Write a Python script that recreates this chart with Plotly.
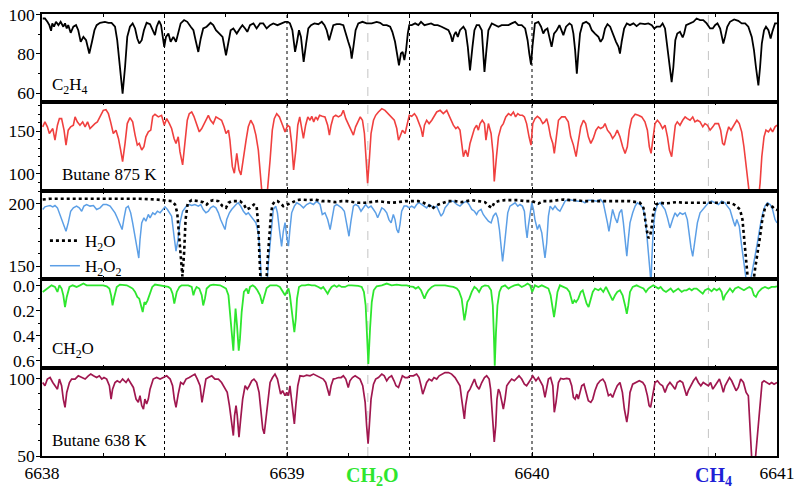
import plotly.graph_objects as go
from plotly.subplots import make_subplots

# ---------------- data (wavenumber, value) ----------------
c2h4 = [(6638.003,98.1),(6638.012,98.1),(6638.022,96.4),(6638.030,94.7),(6638.037,91.8),(6638.042,95.6),(6638.049,93.9),(6638.057,96.4),(6638.067,94.7),(6638.076,96.4),(6638.087,93.9),(6638.094,95.6),(6638.101,93.0),(6638.107,94.7),(6638.117,90.8),(6638.128,93.9),(6638.139,94.7),(6638.148,92.1),(6638.158,86.2),(6638.169,88.7),(6638.180,87.0),(6638.193,80.2),(6638.204,86.2),(6638.214,92.1),(6638.223,94.7),(6638.237,95.9),(6638.257,96.4),(6638.271,95.9),(6638.284,95.9),(6638.298,93.9),(6638.307,87.0),(6638.318,75.0),(6638.329,59.7),(6638.339,73.3),(6638.348,88.7),(6638.359,93.9),(6638.370,95.6),(6638.380,93.0),(6638.389,87.9),(6638.397,85.3),(6638.407,87.0),(6638.416,92.1),(6638.427,95.9),(6638.441,95.2),(6638.452,92.1),(6638.461,89.6),(6638.468,93.9),(6638.478,96.9),(6638.486,94.7),(6638.493,88.7),(6638.499,83.6),(6638.506,88.7),(6638.516,90.4),(6638.525,86.2),(6638.536,88.7),(6638.547,86.2),(6638.556,91.3),(6638.566,95.6),(6638.580,97.3),(6638.593,96.4),(6638.607,93.9),(6638.618,92.1),(6638.627,87.0),(6638.638,81.0),(6638.648,87.9),(6638.658,93.0),(6638.672,93.9),(6638.688,95.9),(6638.699,94.7),(6638.710,92.1),(6638.724,90.4),(6638.737,88.7),(6638.751,79.3),(6638.761,87.0),(6638.770,92.1),(6638.781,93.0),(6638.795,90.4),(6638.808,93.0),(6638.818,94.7),(6638.829,93.0),(6638.838,91.3),(6638.849,94.7),(6638.863,95.6),(6638.876,93.0),(6638.890,95.6),(6638.903,95.6),(6638.917,93.0),(6638.931,94.7),(6638.944,95.6),(6638.961,94.7),(6638.978,95.6),(6638.992,96.4),
(6639.003,96.4),(6639.012,95.6),(6639.022,92.1),(6639.033,81.0),(6639.041,86.2),(6639.049,92.1),(6639.057,88.7),(6639.068,75.9),(6639.078,85.3),(6639.087,93.0),(6639.098,94.7),(6639.112,95.6),(6639.128,95.2),(6639.142,96.4),(6639.153,94.7),(6639.162,92.1),(6639.172,87.0),(6639.180,90.4),(6639.189,94.7),(6639.203,95.2),(6639.216,95.2),(6639.230,94.7),(6639.241,89.6),(6639.250,86.2),(6639.259,82.7),(6639.264,77.6),(6639.271,83.6),(6639.280,92.1),(6639.291,95.6),(6639.308,96.4),(6639.325,95.6),(6639.346,95.6),(6639.366,96.4),(6639.380,95.9),(6639.393,94.7),(6639.407,94.7),(6639.421,93.9),(6639.430,91.3),(6639.441,86.2),(6639.450,80.2),(6639.457,74.2),(6639.465,80.2),(6639.472,81.0),(6639.479,76.8),(6639.486,81.9),(6639.493,90.4),(6639.499,94.7),(6639.509,94.7),(6639.523,95.6),(6639.536,94.7),(6639.547,96.4),(6639.561,94.7),(6639.574,95.2),(6639.588,95.6),(6639.601,94.7),(6639.615,94.7),(6639.631,93.9),(6639.645,93.0),(6639.659,92.1),(6639.668,89.6),(6639.675,86.2),(6639.682,89.6),(6639.689,91.3),(6639.697,88.7),(6639.706,92.1),(6639.720,93.9),(6639.729,92.1),(6639.738,83.6),(6639.747,71.6),(6639.757,83.6),(6639.765,92.1),(6639.774,94.7),(6639.784,94.7),(6639.795,92.1),(6639.800,81.9),(6639.806,70.8),(6639.814,81.9),(6639.822,92.1),(6639.836,95.6),(6639.849,94.7),(6639.863,93.9),(6639.876,94.7),(6639.890,94.7),(6639.904,94.7),(6639.917,95.6),(6639.931,96.4),(6639.944,94.7),(6639.958,94.7),(6639.972,93.0),(6639.982,87.0),(6639.989,80.2),(6639.996,74.5),(6640.002,84.0),(6640.008,91.0),
(6640.012,95.6),(6640.026,96.4),(6640.037,93.9),(6640.046,90.4),(6640.053,92.1),(6640.063,93.0),(6640.071,88.7),(6640.080,83.6),(6640.090,90.4),(6640.101,92.1),(6640.112,94.7),(6640.121,91.3),(6640.128,89.6),(6640.139,93.9),(6640.153,95.6),(6640.162,94.7),(6640.169,90.4),(6640.176,81.9),(6640.183,69.9),(6640.189,80.2),(6640.196,90.4),(6640.207,95.6),(6640.221,96.4),(6640.234,95.2),(6640.244,92.1),(6640.257,90.4),(6640.271,88.7),(6640.280,86.2),(6640.289,87.9),(6640.298,93.0),(6640.308,95.2),(6640.319,93.9),(6640.329,90.4),(6640.343,86.2),(6640.353,83.6),(6640.359,80.2),(6640.366,86.2),(6640.376,93.0),(6640.387,95.6),(6640.400,94.7),(6640.414,95.6),(6640.427,94.2),(6640.441,95.6),(6640.461,95.2),(6640.475,95.6),(6640.489,94.7),(6640.499,93.0),(6640.509,93.9),(6640.523,93.9),(6640.533,95.6),(6640.543,93.0),(6640.553,83.6),(6640.561,73.3),(6640.570,65.6),(6640.577,73.3),(6640.585,87.0),(6640.593,90.4),(6640.604,91.3),(6640.615,88.4),(6640.621,90.4),(6640.629,94.7),(6640.642,95.6),(6640.659,96.4),(6640.672,98.1),(6640.686,97.3),(6640.699,97.3),(6640.713,95.6),(6640.727,93.0),(6640.738,93.0),(6640.747,94.7),(6640.757,95.6),(6640.768,93.0),(6640.774,88.7),(6640.781,85.3),(6640.788,88.7),(6640.797,93.9),(6640.808,96.4),(6640.825,97.6),(6640.842,96.9),(6640.856,95.6),(6640.870,95.6),(6640.883,93.9),(6640.897,88.7),(6640.906,81.9),(6640.914,73.3),(6640.924,63.9),(6640.931,73.3),(6640.938,85.3),(6640.947,92.1),(6640.955,93.9),(6640.965,92.1),(6640.974,87.9),(6640.981,91.3),(6640.992,95.6),(6641.000,95.6)]

butane875 = [(6638.003,155.1),(6638.012,160.9),(6638.022,155.1),(6638.030,147.3),(6638.044,153.1),(6638.053,139.5),(6638.063,157.0),(6638.071,164.7),(6638.080,164.7),(6638.090,151.2),(6638.098,133.7),(6638.107,151.2),(6638.117,155.1),(6638.128,157.0),(6638.135,166.7),(6638.144,160.9),(6638.155,157.0),(6638.166,160.9),(6638.176,155.1),(6638.186,160.9),(6638.196,153.1),(6638.207,157.0),(6638.216,158.9),(6638.226,160.9),(6638.237,166.7),(6638.250,174.4),(6638.261,175.2),(6638.271,170.5),(6638.280,160.9),(6638.291,147.3),(6638.302,151.2),(6638.312,141.5),(6638.321,127.9),(6638.329,114.3),(6638.339,135.7),(6638.348,158.9),(6638.359,165.9),(6638.370,160.9),(6638.380,145.4),(6638.389,133.7),(6638.397,135.7),(6638.407,127.9),(6638.416,131.8),(6638.424,143.4),(6638.434,149.2),(6638.444,151.2),(6638.452,167.4),(6638.461,169.8),(6638.475,166.7),(6638.488,168.6),(6638.499,157.0),(6638.509,164.7),(6638.520,158.9),(6638.529,153.1),(6638.539,141.5),(6638.547,135.7),(6638.556,143.4),(6638.563,126.0),(6638.574,110.5),(6638.584,139.5),(6638.593,162.8),(6638.601,170.5),(6638.611,172.5),(6638.620,167.4),(6638.631,158.9),(6638.642,149.2),(6638.652,153.1),(6638.661,158.9),(6638.672,164.7),(6638.679,168.6),(6638.688,162.8),(6638.699,158.9),(6638.710,166.7),(6638.724,164.7),(6638.733,162.8),(6638.743,155.1),(6638.751,147.3),(6638.761,151.2),(6638.767,139.5),(6638.777,108.5),(6638.785,100.8),(6638.795,124.0),(6638.804,104.7),(6638.812,98.8),(6638.822,120.2),(6638.833,139.5),(6638.842,155.1),(6638.852,162.8),(6638.863,157.0),(6638.873,145.4),(6638.883,127.9),(6638.890,100.8),(6638.897,81.4),(6638.903,60.0),(6638.914,60.0),(6638.924,89.2),(6638.931,116.3),(6638.940,151.2),(6638.948,164.7),(6638.958,170.5),(6638.969,166.7),(6638.982,157.0),(6638.992,149.2),
(6639.003,157.0),(6639.011,155.1),(6639.019,135.7),(6639.027,104.7),(6639.036,127.9),(6639.044,157.0),(6639.052,166.7),(6639.060,151.2),(6639.067,141.5),(6639.076,157.0),(6639.085,166.7),(6639.094,162.8),(6639.101,167.4),(6639.109,160.9),(6639.117,166.7),(6639.125,163.6),(6639.133,168.6),(6639.144,167.4),(6639.155,166.7),(6639.166,157.0),(6639.173,145.4),(6639.180,157.0),(6639.189,166.7),(6639.199,168.6),(6639.210,166.7),(6639.221,168.6),(6639.230,174.4),(6639.240,164.7),(6639.250,158.9),(6639.261,153.1),(6639.271,145.4),(6639.280,155.1),(6639.289,160.9),(6639.299,166.7),(6639.308,162.8),(6639.316,147.3),(6639.323,116.3),(6639.329,89.2),(6639.336,116.3),(6639.343,147.3),(6639.353,162.8),(6639.362,168.6),(6639.373,172.5),(6639.387,176.4),(6639.400,174.4),(6639.414,170.5),(6639.425,166.7),(6639.438,162.8),(6639.448,153.1),(6639.455,139.5),(6639.461,143.4),(6639.471,151.2),(6639.482,147.3),(6639.491,158.9),(6639.499,168.6),(6639.509,167.4),(6639.520,170.5),(6639.529,166.7),(6639.539,158.9),(6639.547,153.1),(6639.554,143.4),(6639.561,157.0),(6639.570,162.8),(6639.580,158.9),(6639.591,162.8),(6639.601,168.6),(6639.611,172.5),(6639.625,174.4),(6639.638,170.5),(6639.652,174.4),(6639.665,166.7),(6639.679,157.0),(6639.689,153.1),(6639.697,155.1),(6639.706,151.2),(6639.713,137.6),(6639.720,120.2),(6639.729,127.9),(6639.738,120.2),(6639.747,135.7),(6639.757,147.3),(6639.765,153.1),(6639.774,157.0),(6639.781,151.2),(6639.788,158.9),(6639.797,162.8),(6639.806,158.9),(6639.812,139.5),(6639.822,158.9),(6639.833,147.3),(6639.841,124.0),(6639.846,91.1),(6639.855,120.2),(6639.863,143.4),(6639.874,155.1),(6639.883,158.9),(6639.893,166.7),(6639.904,170.5),(6639.914,168.6),(6639.924,172.5),(6639.933,166.7),(6639.942,170.5),(6639.951,168.6),(6639.961,168.6),(6639.969,166.7),(6639.978,158.9),(6639.988,143.4),(6639.996,133.7),
(6640.003,158.9),(6640.012,164.7),(6640.022,167.4),(6640.033,164.7),(6640.044,158.9),(6640.052,160.9),(6640.060,164.7),(6640.067,157.0),(6640.076,143.4),(6640.085,135.7),(6640.091,124.0),(6640.101,151.2),(6640.108,162.8),(6640.121,166.7),(6640.135,166.7),(6640.148,160.9),(6640.158,143.4),(6640.169,133.7),(6640.180,120.2),(6640.189,137.6),(6640.199,155.1),(6640.210,162.8),(6640.219,158.9),(6640.230,143.4),(6640.240,135.7),(6640.250,141.5),(6640.261,151.2),(6640.271,155.1),(6640.280,153.1),(6640.291,155.1),(6640.298,158.9),(6640.308,151.2),(6640.319,147.3),(6640.329,141.5),(6640.339,145.4),(6640.348,151.2),(6640.359,143.4),(6640.370,131.8),(6640.380,124.0),(6640.389,131.8),(6640.397,151.2),(6640.407,164.7),(6640.421,169.8),(6640.434,168.6),(6640.448,166.7),(6640.461,160.9),(6640.471,151.2),(6640.479,131.8),(6640.486,124.0),(6640.493,139.5),(6640.502,158.9),(6640.512,162.8),(6640.523,158.9),(6640.533,153.1),(6640.543,157.0),(6640.553,143.4),(6640.561,127.9),(6640.570,120.2),(6640.577,139.5),(6640.585,157.0),(6640.593,160.9),(6640.604,157.0),(6640.615,162.8),(6640.625,166.7),(6640.634,164.7),(6640.645,162.8),(6640.656,166.7),(6640.665,160.9),(6640.675,162.8),(6640.686,160.9),(6640.697,155.1),(6640.706,158.9),(6640.716,157.0),(6640.727,151.2),(6640.738,155.1),(6640.747,158.9),(6640.761,158.9),(6640.770,151.2),(6640.778,135.7),(6640.785,133.7),(6640.795,147.3),(6640.803,155.1),(6640.812,151.2),(6640.825,157.0),(6640.836,162.8),(6640.846,158.9),(6640.856,149.2),(6640.865,131.8),(6640.874,112.4),(6640.883,89.2),(6640.890,69.8),(6640.906,60.0),(6640.924,69.8),(6640.931,89.2),(6640.938,120.2),(6640.947,143.4),(6640.955,151.2),(6640.965,149.2),(6640.974,153.1),(6640.982,149.2),(6640.992,155.1),(6641.000,157.0)]

h2o = [(6638.003,203.5),(6638.033,204.1),(6638.073,204.1),(6638.128,204.1),(6638.196,204.1),(6638.264,204.1),(6638.332,204.1),(6638.400,204.1),(6638.468,203.5),(6638.509,203.0),(6638.529,202.2),(6638.543,199.5),(6638.552,192.8),(6638.561,171.3),(6638.567,152.5),(6638.573,141.7),(6638.580,160.5),(6638.586,187.4),(6638.595,200.9),(6638.611,203.0),(6638.638,202.2),(6638.658,201.4),(6638.672,199.5),(6638.686,202.2),(6638.699,203.0),(6638.720,202.2),(6638.737,198.2),(6638.751,196.8),(6638.761,200.9),(6638.774,202.2),(6638.795,202.2),(6638.808,202.2),(6638.824,199.5),(6638.835,195.5),(6638.849,196.8),(6638.865,199.5),(6638.876,198.2),(6638.883,182.0),(6638.887,160.5),(6638.892,139.0),(6638.903,130.0),(6638.914,130.0),(6638.920,152.5),(6638.928,174.0),(6638.935,192.8),(6638.941,199.5),(6638.951,202.2),(6638.961,202.2),(6638.971,200.9),(6638.985,198.2),
(6639.006,199.5),(6639.019,200.9),(6639.040,203.0),(6639.060,203.5),(6639.087,203.0),(6639.114,203.5),(6639.142,202.2),(6639.169,202.2),(6639.196,201.4),(6639.223,202.2),(6639.244,202.2),(6639.264,201.4),(6639.291,200.9),(6639.319,200.9),(6639.346,201.4),(6639.373,202.2),(6639.400,201.4),(6639.427,200.9),(6639.455,201.4),(6639.482,202.2),(6639.509,202.2),(6639.536,202.2),(6639.557,200.9),(6639.570,199.5),(6639.584,198.2),(6639.593,196.0),(6639.604,198.2),(6639.618,199.5),(6639.638,200.9),(6639.659,202.2),(6639.686,202.2),(6639.713,201.4),(6639.733,202.2),(6639.754,203.0),(6639.781,202.2),(6639.808,201.4),(6639.825,198.2),(6639.836,196.8),(6639.846,200.9),(6639.863,202.2),(6639.890,203.0),(6639.917,203.0),(6639.944,203.0),(6639.972,202.2),(6639.999,202.2),
(6640.026,200.3),(6640.046,202.2),(6640.074,202.2),(6640.101,203.0),(6640.128,203.5),(6640.155,203.0),(6640.183,203.0),(6640.210,202.2),(6640.237,202.2),(6640.264,202.2),(6640.291,202.2),(6640.319,202.2),(6640.346,202.2),(6640.373,202.2),(6640.400,202.2),(6640.425,201.4),(6640.441,200.9),(6640.455,196.8),(6640.461,187.4),(6640.468,179.4),(6640.475,172.6),(6640.482,174.0),(6640.489,182.0),(6640.495,192.8),(6640.506,199.5),(6640.523,200.9),(6640.543,200.3),(6640.563,200.9),(6640.591,201.4),(6640.618,200.9),(6640.645,200.9),(6640.672,201.4),(6640.699,201.4),(6640.727,201.4),(6640.754,200.9),(6640.781,200.9),(6640.808,200.9),(6640.825,199.5),(6640.838,197.6),(6640.849,195.5),(6640.859,187.4),(6640.865,174.0),(6640.874,155.2),(6640.880,141.7),(6640.887,133.0),(6640.901,133.0),(6640.910,147.1),(6640.921,160.5),(6640.931,174.0),(6640.940,187.4),(6640.951,196.8),(6640.961,199.5),(6640.972,198.7),(6640.982,197.6),(6640.992,195.5),(6641.000,195.0)]

h2o2 = [(6638.003,195.5),(6638.012,197.6),(6638.022,198.2),(6638.033,198.7),(6638.044,197.6),(6638.053,198.7),(6638.063,196.8),(6638.071,192.8),(6638.080,187.4),(6638.090,182.0),(6638.098,178.0),(6638.107,184.7),(6638.117,194.1),(6638.128,196.8),(6638.141,198.2),(6638.152,196.8),(6638.162,194.1),(6638.171,198.2),(6638.182,199.5),(6638.196,198.2),(6638.210,198.7),(6638.223,195.5),(6638.237,196.8),(6638.250,199.5),(6638.264,199.5),(6638.278,198.2),(6638.288,195.5),(6638.298,192.8),(6638.307,188.8),(6638.318,183.4),(6638.327,179.4),(6638.335,188.8),(6638.343,196.8),(6638.352,198.2),(6638.362,192.8),(6638.370,184.7),(6638.380,174.0),(6638.389,163.2),(6638.395,156.5),(6638.400,171.3),(6638.407,184.7),(6638.416,188.8),(6638.424,186.1),(6638.434,191.5),(6638.441,188.8),(6638.452,192.8),(6638.461,191.5),(6638.471,194.1),(6638.482,192.8),(6638.493,195.5),(6638.502,197.6),(6638.512,195.5),(6638.520,192.8),(6638.529,190.1),(6638.539,174.0),(6638.547,162.0),(6638.554,170.0),(6638.563,184.7),(6638.574,194.1),(6638.584,197.0),(6638.590,198.5),(6638.601,199.5),(6638.611,198.7),(6638.624,199.5),(6638.638,198.2),(6638.648,199.5),(6638.658,195.5),(6638.669,192.8),(6638.679,194.1),(6638.688,196.8),(6638.699,198.2),(6638.710,196.8),(6638.720,192.8),(6638.729,187.4),(6638.737,183.4),(6638.747,179.4),(6638.754,187.4),(6638.765,192.8),(6638.774,195.5),(6638.784,198.2),(6638.792,199.5),(6638.801,200.9),(6638.811,198.2),(6638.822,194.1),(6638.833,191.5),(6638.842,192.8),(6638.852,190.1),(6638.863,187.4),(6638.873,184.7),(6638.883,176.7),(6638.890,160.5),(6638.897,130.0),(6638.917,130.0),(6638.924,152.5),(6638.931,168.6),(6638.937,184.7),(6638.944,195.5),(6638.954,198.2),(6638.961,192.8),(6638.969,179.4),(6638.978,165.9),(6638.985,178.0),(6638.992,185.0),(6639.000,172.0),(6639.006,166.0),(6639.012,179.4),(6639.019,192.8),
(6639.030,198.2),(6639.040,200.9),(6639.053,199.5),(6639.067,196.8),(6639.080,199.5),(6639.094,200.9),(6639.108,199.5),(6639.121,202.2),(6639.135,199.5),(6639.144,191.5),(6639.155,192.8),(6639.166,187.4),(6639.176,179.4),(6639.185,190.1),(6639.193,198.2),(6639.203,199.5),(6639.212,198.2),(6639.223,196.8),(6639.234,194.1),(6639.244,184.7),(6639.253,174.0),(6639.261,186.1),(6639.271,198.2),(6639.280,199.5),(6639.291,198.2),(6639.302,194.1),(6639.312,196.8),(6639.321,199.5),(6639.332,196.8),(6639.343,198.2),(6639.353,195.5),(6639.362,192.8),(6639.370,188.8),(6639.380,194.1),(6639.387,196.8),(6639.397,195.5),(6639.407,192.8),(6639.416,187.4),(6639.425,184.7),(6639.434,191.5),(6639.441,187.4),(6639.448,179.4),(6639.455,176.7),(6639.461,183.4),(6639.468,194.1),(6639.478,198.2),(6639.489,198.2),(6639.498,196.8),(6639.509,198.2),(6639.520,196.8),(6639.529,199.5),(6639.539,200.9),(6639.550,199.5),(6639.561,198.2),(6639.570,196.8),(6639.580,199.5),(6639.591,198.2),(6639.601,196.8),(6639.611,198.2),(6639.621,194.1),(6639.629,190.1),(6639.638,192.8),(6639.645,196.8),(6639.656,199.5),(6639.665,202.2),(6639.679,202.2),(6639.693,199.5),(6639.706,198.2),(6639.720,200.9),(6639.733,202.2),(6639.743,199.5),(6639.754,195.5),(6639.765,194.1),(6639.774,191.5),(6639.781,194.1),(6639.792,195.5),(6639.801,191.5),(6639.811,188.8),(6639.822,186.1),(6639.833,184.7),(6639.842,190.1),(6639.852,192.8),(6639.860,188.8),(6639.867,179.4),(6639.874,165.9),(6639.880,153.8),(6639.887,165.9),(6639.893,179.4),(6639.901,192.8),(6639.910,198.2),(6639.920,199.5),(6639.931,200.9),(6639.942,198.2),(6639.951,199.5),(6639.961,198.2),(6639.969,194.1),(6639.974,182.0),(6639.980,172.6),(6639.985,182.0),(6639.992,194.1),
(6639.999,200.9),(6640.006,195.5),(6640.012,187.4),(6640.022,179.4),(6640.030,183.4),(6640.040,176.7),(6640.046,165.9),(6640.053,156.5),(6640.060,168.6),(6640.067,190.1),(6640.074,198.2),(6640.085,195.5),(6640.094,198.2),(6640.104,195.5),(6640.114,194.1),(6640.124,198.2),(6640.135,202.2),(6640.148,203.5),(6640.162,203.0),(6640.176,202.2),(6640.189,202.2),(6640.203,202.2),(6640.216,200.9),(6640.230,203.0),(6640.244,203.0),(6640.264,202.2),(6640.280,203.5),(6640.291,200.9),(6640.302,191.5),(6640.308,184.7),(6640.314,178.0),(6640.321,187.4),(6640.329,195.5),(6640.339,188.8),(6640.348,184.7),(6640.357,192.8),(6640.366,195.5),(6640.373,184.7),(6640.380,168.6),(6640.387,157.9),(6640.393,171.3),(6640.400,184.7),(6640.411,192.8),(6640.421,198.2),(6640.430,200.9),(6640.441,199.5),(6640.452,196.8),(6640.461,190.1),(6640.468,176.7),(6640.475,160.5),(6640.482,141.7),(6640.486,136.0),(6640.489,155.2),(6640.495,179.4),(6640.502,192.8),(6640.512,199.5),(6640.523,200.9),(6640.533,198.2),(6640.543,195.5),(6640.553,188.8),(6640.563,180.7),(6640.574,187.4),(6640.584,192.8),(6640.593,190.1),(6640.604,192.8),(6640.615,191.5),(6640.625,192.8),(6640.634,187.4),(6640.642,174.0),(6640.649,164.6),(6640.656,157.9),(6640.665,171.3),(6640.675,184.7),(6640.686,192.8),(6640.697,195.5),(6640.706,198.2),(6640.720,200.9),(6640.733,202.2),(6640.747,200.9),(6640.761,199.5),(6640.774,202.2),(6640.788,200.9),(6640.797,198.2),(6640.808,195.5),(6640.822,186.1),(6640.829,182.0),(6640.836,187.4),(6640.846,182.0),(6640.856,165.9),(6640.865,149.8),(6640.876,136.3),(6640.890,136.3),(6640.901,147.1),(6640.910,157.9),(6640.920,168.6),(6640.931,182.0),(6640.942,192.8),(6640.951,198.2),(6640.961,200.9),(6640.972,199.5),(6640.982,195.5),(6640.992,187.4),(6641.000,184.7)]

ch2o = [(6638.003,0.048),(6638.012,0.035),(6638.026,0.021),(6638.039,-0.005),(6638.053,0.008),(6638.063,0.048),(6638.071,-0.005),(6638.080,0.021),(6638.087,0.075),(6638.094,0.169),(6638.101,0.088),(6638.112,0.008),(6638.125,-0.005),(6638.141,0.008),(6638.155,-0.005),(6638.169,-0.019),(6638.182,-0.005),(6638.196,-0.005),(6638.210,-0.005),(6638.223,-0.011),(6638.237,-0.005),(6638.250,-0.005),(6638.264,0.003),(6638.275,0.021),(6638.282,0.075),(6638.288,0.156),(6638.295,0.088),(6638.305,0.008),(6638.318,-0.011),(6638.332,-0.005),(6638.346,-0.005),(6638.359,0.008),(6638.370,0.021),(6638.380,0.048),(6638.389,0.088),(6638.397,0.102),(6638.404,0.156),(6638.411,0.209),(6638.418,0.129),(6638.424,0.142),(6638.431,0.115),(6638.441,0.048),(6638.450,0.008),(6638.461,-0.011),(6638.475,-0.005),(6638.488,-0.005),(6638.502,0.003),(6638.516,0.008),(6638.525,0.021),(6638.533,0.062),(6638.540,0.142),(6638.550,0.048),(6638.561,0.008),(6638.570,-0.005),(6638.584,-0.005),(6638.597,-0.005),(6638.611,0.008),(6638.618,0.075),(6638.624,0.035),(6638.631,0.008),(6638.642,0.021),(6638.652,0.075),(6638.658,0.156),(6638.665,0.102),(6638.672,0.021),(6638.686,-0.005),(6638.699,-0.011),(6638.713,-0.005),(6638.727,-0.005),(6638.740,0.008),(6638.751,0.021),(6638.761,0.075),(6638.767,0.209),(6638.774,0.397),(6638.781,0.518),(6638.786,0.316),(6638.790,0.182),(6638.796,0.316),(6638.803,0.518),(6638.808,0.424),(6638.815,0.209),(6638.824,0.048),(6638.835,0.021),(6638.842,0.062),(6638.849,0.008),(6638.860,-0.005),(6638.869,0.008),(6638.879,0.035),(6638.890,0.075),(6638.899,0.142),(6638.907,0.075),(6638.917,0.016),(6638.931,-0.005),(6638.944,-0.005),(6638.958,-0.005),(6638.971,0.008),(6638.982,0.048),(6638.992,0.075),
(6638.999,0.043),(6639.006,0.021),(6639.012,0.075),(6639.019,0.182),(6639.026,0.316),(6639.030,0.370),(6639.036,0.263),(6639.041,0.102),(6639.049,0.008),(6639.060,-0.005),(6639.074,-0.005),(6639.087,-0.011),(6639.101,-0.005),(6639.114,-0.005),(6639.128,0.008),(6639.139,0.021),(6639.148,0.008),(6639.158,0.035),(6639.166,0.062),(6639.173,0.035),(6639.182,0.008),(6639.193,-0.005),(6639.203,0.008),(6639.212,-0.005),(6639.223,0.008),(6639.237,0.008),(6639.250,-0.005),(6639.264,-0.005),(6639.278,-0.005),(6639.291,0.000),(6639.305,0.008),(6639.314,0.048),(6639.321,0.156),(6639.327,0.370),(6639.332,0.625),(6639.339,0.343),(6639.346,0.129),(6639.354,0.035),(6639.366,0.003),(6639.387,-0.005),(6639.407,-0.019),(6639.427,-0.005),(6639.448,-0.011),(6639.468,-0.005),(6639.489,-0.005),(6639.502,0.003),(6639.516,0.008),(6639.525,0.021),(6639.536,0.008),(6639.547,0.035),(6639.554,0.075),(6639.561,0.102),(6639.569,0.062),(6639.577,0.035),(6639.591,0.008),(6639.604,-0.005),(6639.618,-0.005),(6639.631,-0.005),(6639.645,-0.005),(6639.665,0.003),(6639.679,0.008),(6639.693,0.021),(6639.702,0.043),(6639.713,0.102),(6639.720,0.209),(6639.724,0.276),(6639.729,0.223),(6639.736,0.129),(6639.744,0.102),(6639.754,0.048),(6639.765,0.008),(6639.774,0.021),(6639.784,0.048),(6639.795,0.008),(6639.808,-0.005),(6639.822,0.000),(6639.833,0.035),(6639.840,0.156),(6639.844,0.370),(6639.848,0.638),(6639.853,0.370),(6639.859,0.156),(6639.867,0.048),(6639.876,0.008),(6639.890,-0.005),(6639.904,0.021),(6639.914,0.008),(6639.928,-0.005),(6639.944,-0.011),(6639.958,0.008),(6639.972,-0.005),(6639.982,-0.019),(6639.992,-0.005),(6640.001,0.048),
(6640.012,-0.005),(6640.026,0.008),(6640.040,-0.005),(6640.053,0.008),(6640.067,0.021),(6640.076,0.075),(6640.083,0.156),(6640.090,0.249),(6640.097,0.156),(6640.104,0.048),(6640.114,-0.005),(6640.128,0.008),(6640.142,0.021),(6640.153,0.048),(6640.161,0.102),(6640.166,0.142),(6640.173,0.115),(6640.180,0.129),(6640.189,0.102),(6640.199,0.048),(6640.207,0.035),(6640.214,0.075),(6640.223,0.142),(6640.231,0.169),(6640.240,0.115),(6640.248,0.048),(6640.257,0.021),(6640.271,0.035),(6640.280,0.021),(6640.291,0.048),(6640.302,0.008),(6640.312,0.048),(6640.321,0.075),(6640.329,0.115),(6640.339,0.075),(6640.348,0.048),(6640.359,0.035),(6640.370,0.075),(6640.380,0.156),(6640.387,0.223),(6640.393,0.156),(6640.400,0.048),(6640.411,0.008),(6640.427,-0.005),(6640.441,0.008),(6640.455,0.021),(6640.465,0.048),(6640.475,0.021),(6640.484,0.008),(6640.495,-0.005),(6640.506,0.008),(6640.516,0.021),(6640.525,0.008),(6640.536,0.035),(6640.547,0.048),(6640.557,0.035),(6640.566,0.021),(6640.577,0.048),(6640.588,0.035),(6640.597,0.021),(6640.611,0.048),(6640.621,0.035),(6640.631,0.035),(6640.642,0.021),(6640.652,0.035),(6640.661,0.021),(6640.672,0.021),(6640.686,0.048),(6640.697,0.062),(6640.706,0.035),(6640.720,0.021),(6640.733,0.043),(6640.743,0.021),(6640.754,0.035),(6640.765,0.021),(6640.774,0.048),(6640.781,0.115),(6640.788,0.075),(6640.797,0.048),(6640.808,0.021),(6640.819,0.048),(6640.829,0.021),(6640.842,0.008),(6640.856,0.021),(6640.865,0.035),(6640.876,0.021),(6640.887,0.008),(6640.897,0.021),(6640.906,0.075),(6640.914,0.088),(6640.924,0.048),(6640.938,0.021),(6640.951,0.008),(6640.965,0.021),(6640.978,0.008),(6640.992,0.008),(6641.000,0.003)]

butane638 = [(6638.003,97.4),(6638.012,95.3),(6638.022,99.6),(6638.033,100.6),(6638.044,97.4),(6638.053,95.3),(6638.063,93.1),(6638.071,99.6),(6638.080,95.3),(6638.087,86.7),(6638.094,81.4),(6638.101,91.0),(6638.112,97.4),(6638.121,99.6),(6638.135,99.6),(6638.148,101.7),(6638.162,100.6),(6638.176,99.6),(6638.189,101.7),(6638.199,102.8),(6638.210,101.7),(6638.223,100.6),(6638.234,101.7),(6638.244,99.6),(6638.253,100.6),(6638.264,99.6),(6638.275,95.3),(6638.282,86.7),(6638.288,93.1),(6638.298,97.4),(6638.307,98.5),(6638.318,97.4),(6638.329,99.6),(6638.343,97.4),(6638.352,99.6),(6638.362,97.4),(6638.373,94.2),(6638.384,86.7),(6638.393,84.6),(6638.400,88.9),(6638.407,82.5),(6638.414,80.3),(6638.420,86.7),(6638.427,83.5),(6638.434,86.7),(6638.441,93.1),(6638.454,99.6),(6638.468,100.6),(6638.482,99.6),(6638.495,100.6),(6638.509,101.7),(6638.523,99.6),(6638.533,95.3),(6638.540,86.7),(6638.547,81.4),(6638.556,89.9),(6638.566,97.4),(6638.577,96.3),(6638.588,99.6),(6638.601,100.6),(6638.615,101.7),(6638.624,102.8),(6638.634,99.6),(6638.645,95.3),(6638.653,84.6),(6638.661,91.0),(6638.669,99.6),(6638.679,100.6),(6638.693,101.7),(6638.706,99.6),(6638.720,99.6),(6638.733,97.4),(6638.747,93.1),(6638.756,91.0),(6638.765,82.5),(6638.774,71.8),(6638.781,63.2),(6638.786,76.0),(6638.792,82.5),(6638.797,76.0),(6638.804,62.2),(6638.811,73.9),(6638.819,86.7),(6638.829,95.3),(6638.838,93.1),(6638.846,95.3),(6638.856,98.5),(6638.865,99.6),(6638.876,97.4),(6638.886,91.0),(6638.894,80.3),(6638.901,67.5),(6638.907,64.3),(6638.914,73.9),(6638.921,86.7),(6638.931,97.4),(6638.941,100.6),(6638.951,102.8),(6638.961,99.6),(6638.969,94.2),(6638.974,89.9),(6638.982,92.1),(6638.992,88.9),
(6638.999,91.0),(6639.006,88.9),(6639.012,95.3),(6639.019,84.6),(6639.026,73.9),(6639.030,70.7),(6639.036,82.5),(6639.044,95.3),(6639.053,101.7),(6639.067,101.3),(6639.080,102.1),(6639.094,101.7),(6639.108,102.8),(6639.121,101.7),(6639.135,100.6),(6639.148,99.6),(6639.158,97.4),(6639.166,93.1),(6639.173,88.9),(6639.180,95.3),(6639.189,99.6),(6639.199,100.0),(6639.210,100.6),(6639.221,100.6),(6639.230,101.7),(6639.240,99.6),(6639.250,94.2),(6639.257,98.5),(6639.267,100.6),(6639.278,101.7),(6639.289,100.6),(6639.298,99.6),(6639.309,95.3),(6639.319,84.6),(6639.325,69.6),(6639.331,57.9),(6639.336,69.6),(6639.343,86.7),(6639.353,96.3),(6639.362,99.6),(6639.373,100.6),(6639.387,102.8),(6639.397,101.7),(6639.407,98.5),(6639.416,100.6),(6639.427,101.7),(6639.437,98.5),(6639.445,95.3),(6639.455,94.2),(6639.461,97.4),(6639.471,101.7),(6639.482,100.6),(6639.493,100.6),(6639.502,101.7),(6639.516,101.7),(6639.529,102.8),(6639.539,100.6),(6639.547,95.3),(6639.554,89.9),(6639.561,93.1),(6639.570,97.4),(6639.580,99.6),(6639.591,98.5),(6639.600,100.6),(6639.611,99.6),(6639.621,101.7),(6639.631,102.8),(6639.645,103.8),(6639.659,103.8),(6639.672,102.8),(6639.686,100.6),(6639.697,97.4),(6639.706,95.3),(6639.713,86.7),(6639.720,76.0),(6639.724,73.9),(6639.729,82.5),(6639.738,91.0),(6639.747,93.1),(6639.757,97.4),(6639.765,99.6),(6639.774,95.3),(6639.784,93.1),(6639.795,97.4),(6639.806,100.6),(6639.815,101.7),(6639.825,99.6),(6639.831,93.1),(6639.838,73.9),(6639.846,59.0),(6639.852,69.6),(6639.857,86.7),(6639.863,93.1),(6639.869,91.0),(6639.876,85.7),(6639.883,80.3),(6639.890,86.7),(6639.897,95.3),(6639.906,97.4),(6639.917,99.6),(6639.928,98.5),(6639.938,100.6),(6639.947,101.7),(6639.958,99.6),(6639.969,96.3),(6639.978,95.3),(6639.988,97.4),(6639.996,99.6),(6640.003,101.7),
(6640.016,98.5),(6640.026,100.6),(6640.036,97.4),(6640.044,95.3),(6640.053,87.8),(6640.060,93.1),(6640.067,99.6),(6640.076,100.6),(6640.085,95.3),(6640.091,78.2),(6640.098,84.6),(6640.108,97.4),(6640.117,100.0),(6640.128,99.6),(6640.142,100.0),(6640.153,99.6),(6640.162,95.3),(6640.169,87.8),(6640.176,86.7),(6640.183,89.9),(6640.189,86.7),(6640.196,91.0),(6640.203,95.3),(6640.212,96.3),(6640.221,91.0),(6640.230,85.7),(6640.240,84.6),(6640.248,86.7),(6640.257,92.1),(6640.267,96.3),(6640.278,98.5),(6640.289,99.6),(6640.298,97.4),(6640.305,93.1),(6640.312,88.9),(6640.321,89.9),(6640.329,87.8),(6640.339,92.1),(6640.348,95.3),(6640.359,97.4),(6640.369,91.0),(6640.377,80.3),(6640.387,71.8),(6640.393,78.2),(6640.400,91.0),(6640.411,96.3),(6640.425,97.4),(6640.438,98.5),(6640.452,97.4),(6640.461,95.3),(6640.471,88.9),(6640.478,82.5),(6640.484,81.4),(6640.493,91.0),(6640.502,97.4),(6640.512,98.5),(6640.523,96.3),(6640.533,95.3),(6640.543,91.0),(6640.553,95.3),(6640.563,97.4),(6640.574,95.3),(6640.584,93.1),(6640.593,97.4),(6640.604,98.5),(6640.615,97.4),(6640.625,91.0),(6640.631,88.9),(6640.638,92.1),(6640.648,95.3),(6640.659,98.5),(6640.669,100.6),(6640.679,97.4),(6640.689,95.3),(6640.699,97.4),(6640.710,96.3),(6640.720,95.3),(6640.729,97.4),(6640.738,93.1),(6640.747,95.3),(6640.757,97.4),(6640.765,99.6),(6640.774,95.3),(6640.781,91.0),(6640.788,95.3),(6640.797,98.5),(6640.806,100.6),(6640.815,98.5),(6640.825,95.3),(6640.833,92.1),(6640.842,94.2),(6640.852,99.6),(6640.863,97.4),(6640.874,91.0),(6640.883,88.9),(6640.890,69.6),(6640.898,45.0),(6640.910,45.0),(6640.917,59.0),(6640.924,69.6),(6640.931,86.7),(6640.939,97.4),(6640.947,98.5),(6640.958,97.4),(6640.969,96.3),(6640.978,97.4),(6640.988,96.3),(6641.000,97.4)]

# grid / reference positions and labels
DOTTED_NU = [6638.5, 6639.0, 6639.5, 6640.0, 6640.5]
DASHED_NU = [6639.33, 6640.72]
BOTTOM_LABELS = [("<b>CH<sub>2</sub>O</b>", 6639.35, "#2ee62e"), ("<b>CH<sub>4</sub></b>", 6640.74, "#1f1fd6")]
X_TICKS = [6638, 6639, 6640, 6641]

FONT = "Liberation Serif, Times New Roman, serif"


def unzip(pts):
    return [p[0] for p in pts], [p[1] for p in pts]


fig = make_subplots(rows=5, cols=1, shared_xaxes=True, vertical_spacing=0)

x, y = unzip(c2h4)
fig.add_trace(go.Scatter(x=x, y=y, mode="lines", line=dict(color="black", width=1.8), showlegend=False), row=1, col=1)
x, y = unzip(butane875)
fig.add_trace(go.Scatter(x=x, y=y, mode="lines", line=dict(color="#f0403f", width=1.6), showlegend=False), row=2, col=1)
x, y = unzip(h2o2)
fig.add_trace(go.Scatter(x=x, y=y, mode="lines", name="H<sub>2</sub>O<sub>2</sub>", line=dict(color="#5c9fe6", width=1.5), legendrank=2), row=3, col=1)
x, y = unzip(h2o)
fig.add_trace(go.Scatter(x=x, y=y, mode="lines", name="H<sub>2</sub>O", line=dict(color="black", width=2.6, dash="dot"), legendrank=1), row=3, col=1)
x, y = unzip(ch2o)
fig.add_trace(go.Scatter(x=x, y=y, mode="lines", line=dict(color="#2ee62e", width=1.8), showlegend=False), row=4, col=1)
x, y = unzip(butane638)
fig.add_trace(go.Scatter(x=x, y=y, mode="lines", line=dict(color="#a0174f", width=1.7), showlegend=False), row=5, col=1)

tickfont = dict(family=FONT, size=17.5, color="black")
for r in range(1, 6):
    fig.update_xaxes(row=r, col=1, range=[6638, 6641], tickvals=X_TICKS, ticktext=[str(v) for v in X_TICKS],
                     showline=True, linewidth=1.5, linecolor="black", mirror="ticks", automargin=False,
                     ticks="inside", ticklen=4, tickcolor="black", showgrid=False, zeroline=False,
                     tickfont=tickfont,
                     minor=dict(dtick=0.25, tick0=6638, ticks="inside", ticklen=3, tickcolor="black", showgrid=False))

yspecs = {
    1: dict(range=[55.2, 100.4], tickvals=[60, 80, 100], ticktext=["60", "80", "100"], minor=10),
    2: dict(range=[80.2, 183.7], tickvals=[100, 150], ticktext=["100", "150"], minor=10),
    3: dict(range=[139.5, 210.5], tickvals=[150, 200], ticktext=["150", "200"], minor=10),
    4: dict(range=[0.654, -0.054], tickvals=[0, 0.2, 0.4, 0.6], ticktext=["0.0", "0.2", "0.4", "0.6"], minor=0.1),
    5: dict(range=[50, 107], tickvals=[50, 100], ticktext=["50", "100"], minor=10),
}
for r, s in yspecs.items():
    fig.update_yaxes(row=r, col=1, range=s["range"], tickvals=s["tickvals"], ticktext=s["ticktext"],
                     showline=True, linewidth=1.5, linecolor="black", mirror=True, automargin=False,
                     ticks="outside", ticklen=4, tickcolor="black", showgrid=False, zeroline=False,
                     tickfont=tickfont, ticklabelstandoff=-2,
                     minor=dict(dtick=s["minor"], tick0=0, ticks="outside", ticklen=2.5, tickcolor="black", showgrid=False))

for v in DOTTED_NU:
    fig.add_shape(type="line", xref="x", yref="paper", x0=v, x1=v, y0=0, y1=1,
                  line=dict(color="black", width=1, dash="dot"), layer="below")
for v in DASHED_NU:
    fig.add_shape(type="line", xref="x", yref="paper", x0=v, x1=v, y0=0, y1=1,
                  line=dict(color="#c4c4c4", width=1, dash="dash"), layer="below")

labfont = dict(family=FONT, size=17, color="black")
panel_labels = [("C<sub>2</sub>H<sub>4</sub>", 0.011, 0.837), ("Butane 875 K", 0.024, 0.636),
                ("CH<sub>2</sub>O", 0.011, 0.240), ("Butane 638 K", 0.011, 0.036)]
for t, px, py in panel_labels:
    fig.add_annotation(text=t, xref="paper", yref="paper", x=px, y=py, xanchor="left", yanchor="middle",
                       showarrow=False, font=labfont)
for t, xv, col in BOTTOM_LABELS:
    fig.add_annotation(text=t, xref="x", yref="paper", x=xv, y=-0.047, xanchor="center", yanchor="middle",
                       showarrow=False, font=dict(family=FONT, size=20, color=col))

fig.update_layout(
    width=800, height=495, autosize=False,
    margin=dict(l=42, r=23, t=14, b=39),
    plot_bgcolor="white", paper_bgcolor="white",
    font=dict(family=FONT, size=17, color="black"),
    legend=dict(x=0.004, y=0.527, xanchor="left", yanchor="top", bgcolor="rgba(0,0,0,0)",
                font=dict(family=FONT, size=17, color="black"), itemwidth=30, tracegroupgap=0),
)

fig.write_html("out.html", config={"displayModeBar": False},
               post_script="document.body.style.margin='0';document.body.style.padding='0';")
